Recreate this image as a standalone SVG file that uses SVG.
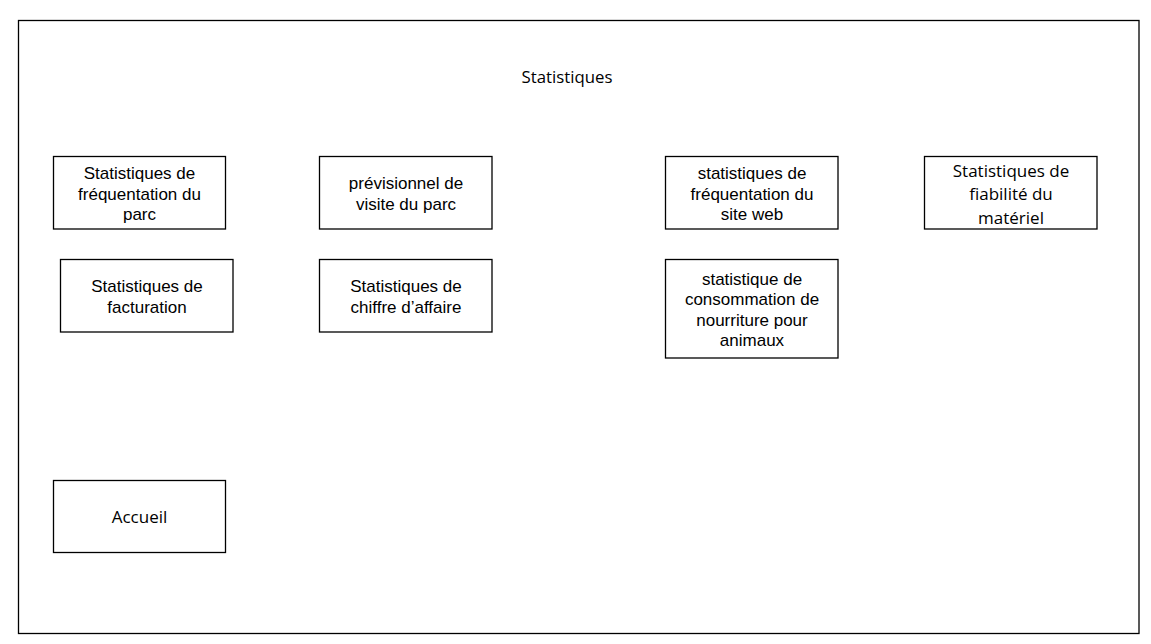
<svg xmlns="http://www.w3.org/2000/svg" width="1151" height="644" viewBox="0 0 1151 644">
<style>
.box{fill:#fff;stroke:#000;stroke-width:1.3}
.t{font-family:"Liberation Sans",Arial,sans-serif;font-size:17px;fill:#000;text-anchor:middle}
.s{font-family:"Open Sans","Noto Sans",sans-serif;font-size:17px;fill:#000;text-anchor:middle}
</style>
<rect width="1151" height="644" fill="#fff"/>
<g id="frame">
<rect class="box" x="18.5" y="20.5" width="1120.5" height="613"/>
<text class="s" x="567" y="83" style="font-size:16.8px">Statistiques</text>
</g>
<g id="connectors"></g>
<g id="n1">
<rect class="box" x="53.5" y="156.5" width="172" height="72.5"/>
<text class="t" x="139.5" y="179.3">Statistiques de</text>
<text class="t" x="139.5" y="199.6">fréquentation du</text>
<text class="t" x="139.5" y="220">parc</text>
</g>
<g id="n2">
<rect class="box" x="319.5" y="156.5" width="172.5" height="72.5"/>
<text class="t" x="406" y="189.3">prévisionnel de</text>
<text class="t" x="406" y="209.7">visite du parc</text>
</g>
<g id="n3">
<rect class="box" x="60.5" y="259.5" width="172.5" height="72.5"/>
<text class="t" x="147" y="292.3">Statistiques de</text>
<text class="t" x="147" y="312.7">facturation</text>
</g>
<g id="n4">
<rect class="box" x="319.5" y="259.5" width="172.5" height="72.5"/>
<text class="t" x="406" y="292.3">Statistiques de</text>
<text class="t" x="406" y="312.7">chiffre d’affaire</text>
</g>
<g id="n5">
<rect class="box" x="665.5" y="156.5" width="172.5" height="72.5"/>
<text class="t" x="752" y="179.3">statistiques de</text>
<text class="t" x="752" y="199.6">fréquentation du</text>
<text class="t" x="752" y="220">site web</text>
</g>
<g id="n6">
<rect class="box" x="924.5" y="156.5" width="172.5" height="72.5"/>
<text class="s" x="1011" y="176.5">Statistiques de</text>
<text class="s" x="1011" y="199.8">fiabilité du</text>
<text class="s" x="1011" y="223.5">matériel</text>
</g>
<g id="n7">
<rect class="box" x="665.5" y="259.5" width="172.5" height="98.5"/>
<text class="t" x="752" y="285">statistique de</text>
<text class="t" x="752" y="305.4">consommation de</text>
<text class="t" x="752" y="325.8">nourriture pour</text>
<text class="t" x="752" y="346.2">animaux</text>
</g>
<g id="n8">
<rect class="box" x="53.5" y="480.5" width="172" height="72"/>
<text class="s" x="139.5" y="522.5">Accueil</text>
</g>
</svg>
